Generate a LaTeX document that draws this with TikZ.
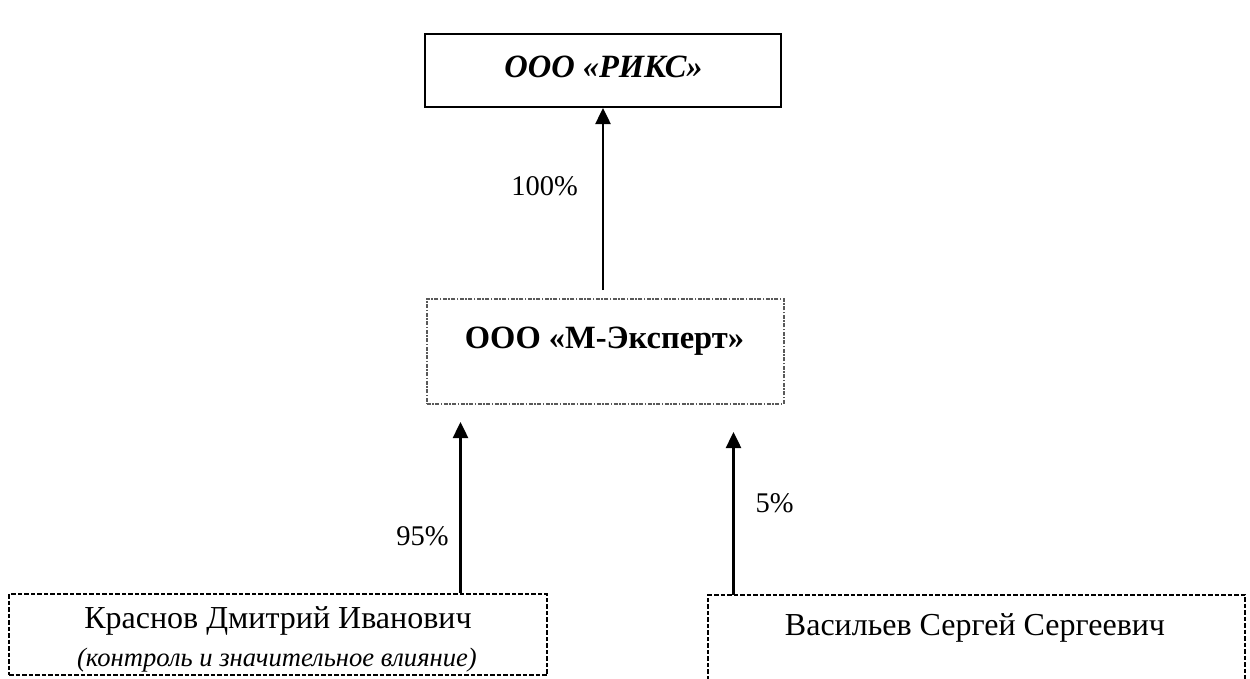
\documentclass[tikz,border=0pt]{standalone}
\usepackage{fontspec}
\setmainfont{Liberation Serif}
\usetikzlibrary{arrows.meta}
\begin{document}
\begin{tikzpicture}[x=1pt,y=-1pt,
  arr/.style={line width=2.5pt,-{Triangle[width=15pt,length=16pt]}},
  lbl/.style={font=\fontsize{28.5}{32}\selectfont, inner sep=0pt, anchor=base},
  txt/.style={font=\fontsize{32}{36}\selectfont, inner sep=0pt, anchor=base},
  solidbox/.style={draw, line width=2pt, inner sep=0pt, anchor=north west},
  dashdotbox/.style={draw=black!65, line width=1.6pt, dash pattern=on 4pt off 1.5pt on 1.5pt off 1.5pt, inner sep=0pt, anchor=north west},
  dashbox/.style={line width=2pt, dash pattern=on 4.5pt off 2pt, inner sep=0pt, anchor=north west}]
\useasboundingbox (0,0) rectangle (1250,678);
% top box
\node[solidbox, minimum width=356pt, minimum height=73pt] (riks) at (424,33) {};
\node[inner sep=0pt, anchor=base, font=\fontsize{32.5}{36}\selectfont\bfseries\itshape] (riksname) at (603.5,77) {ООО «РИКС»};
% middle box
\node[dashdotbox, minimum width=357pt, minimum height=105pt] (mexp) at (426,298) {};
\node[inner sep=0pt, anchor=base, font=\fontsize{32.5}{36}\selectfont\bfseries] (mexpname) at (604.5,348) {ООО «М-Эксперт»};
% bottom left box
\node[dashbox, draw, minimum width=538pt, minimum height=81pt] (krasbox) at (8,593) {};
\node[txt] (krasname) at (278,628) {Краснов Дмитрий Иванович};
\node[txt, font=\fontsize{26.6}{30}\selectfont\itshape] (krasnote) at (277,666) {(контроль и значительное влияние)};
% bottom right box (bottom edge cut off)
\node[dashbox, minimum width=535pt, minimum height=83pt] (vasbox) at (708,595) {};
\draw[dashbox] (vasbox.south west) -- (vasbox.north west) -- (vasbox.north east) -- (vasbox.south east);
\node[txt] (vasname) at (975,635) {Васильев Сергей Сергеевич};
% arrows
\coordinate (t1) at (460.5,422);
\coordinate (t2) at (733.5,432);
\draw[arr] ([yshift=8pt]mexp.north -| riks.south) -- (riks.south);
\draw[arr] (krasbox.north -| t1) -- (t1);
\draw[arr] (vasbox.north -| t2) -- (t2);
% labels
\node[lbl] (l100) at (544.5,195) {100\%};
\node[lbl] (l95) at (422.5,545) {95\%};
\node[lbl] (l5) at (774.5,512) {5\%};
\end{tikzpicture}
\end{document}
